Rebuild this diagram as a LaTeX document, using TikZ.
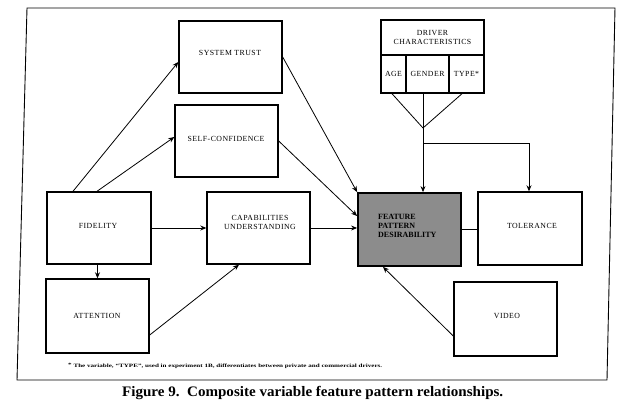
\documentclass[tikz,border=0pt]{standalone}
\usepackage{fontspec}
\usepackage{graphicx}
\setmainfont{Liberation Serif}
\newfontfamily\boxfont[LetterSpace=6]{Liberation Serif}
\usetikzlibrary{arrows.meta,calc}
\begin{document}
\begin{tikzpicture}[x=1pt,y=-1pt,
  box/.style={draw, line width=1.4pt, inner sep=0pt},
  lbl/.style={font=\boxfont\fontsize{7.8}{9}\selectfont, align=center, inner sep=0pt},
  arr/.style={-{Stealth[length=6pt,width=5pt]}, line width=0.8pt},
  con/.style={line width=0.8pt}]
\useasboundingbox (0,0) rectangle (625,409);
% frame
\draw[line width=0.9pt] (27,8) -- (615,8) -- (607,380) -- (17,380) -- cycle;
% boxes
\node[box, minimum width=103pt, minimum height=72pt] (st) at (230.5,57) {};
\node[box, minimum width=103pt, minimum height=72pt] (sc) at (226.5,141) {};
\node[box, minimum width=104pt, minimum height=72pt] (fid) at (99,228) {};
\node[box, minimum width=103pt, minimum height=72pt] (cap) at (258.5,228) {};
\node[box, minimum width=103pt, minimum height=73pt, fill=black!45, line width=1.8pt] (fpd) at (409.5,229.5) {};
\node[box, minimum width=104pt, minimum height=73pt] (tol) at (530,228.5) {};
\node[box, minimum width=103pt, minimum height=74pt] (att) at (97.5,316) {};
\node[box, minimum width=103pt, minimum height=74pt] (vid) at (505.5,319) {};
\node[box, lbl, minimum width=103pt, minimum height=35pt] (dc) at (432.5,37.5) {DRIVER\\CHARACTERISTICS};
\node[box, lbl, minimum width=25pt, minimum height=38pt] (age) at (393.5,74) {AGE};
\node[box, lbl, minimum width=43pt, minimum height=38pt] (gen) at (427.5,74) {GENDER};
\node[box, lbl, minimum width=35pt, minimum height=38pt] (typ) at (466.5,74) {TYPE*};
% labels
\node[lbl] (stt) at (230,53) {SYSTEM TRUST};
\node[lbl] (sct) at (226,139) {SELF-CONFIDENCE};
\node[lbl] (fidt) at (98,226) {FIDELITY};
\node[lbl] (capt) at (260,222.5) {CAPABILITIES\\UNDERSTANDING};
\node[lbl] (tolt) at (532,226) {TOLERANCE};
\node[lbl] (attt) at (97,316) {ATTENTION};
\node[lbl] (vidt) at (507,316) {VIDEO};
\node[anchor=west, align=left, inner sep=0pt, font=\bfseries\fontsize{8}{9}\selectfont] (fpdt) at (378,226) {FEATURE\\PATTERN\\DESIRABILITY};
% connectors
\draw[arr] ([xshift=-26pt]fid.north) -- ([yshift=-5pt]st.west);
\draw[arr] ([xshift=-2pt]fid.north) -- ([yshift=4pt]sc.west);
\draw[arr] (fid.east) -- (cap.west);
\draw[arr] (att.north |- fid.south) -- (att.north);
\draw[arr] ([yshift=-19pt]att.east) -- ([xshift=-19.5pt]cap.south);
\draw[arr] (st.east) -- (fpd.north west);
\draw[arr] (sc.east) -- ([yshift=13.5pt]fpd.west);
\draw[arr] (cap.east) -- (fpd.west |- cap.east);
\draw[arr] ([yshift=-17pt]vid.west) -- ([xshift=-26.5pt]fpd.south);
\draw[con] (fpd.east) -- (tol.west |- fpd.east);
\coordinate (j) at (423,128);
\coordinate (k) at (423,143);
\coordinate (m) at (529,143);
\draw[con] ([xshift=-1.5pt]age.south) -- (j);
\draw[con] ([xshift=-4.5pt]typ.south) -- (j);
\draw[con] (gen.south -| j) -- (j);
\draw[arr] (j) -- (fpd.north -| j);
\draw[arr] (k) -- (m) -- (tol.north -| m);
% footnote and caption
\node[anchor=base west, inner sep=0pt] (fn) at (68,367) {\resizebox{314pt}{\height}{\bfseries\fontsize{5}{6}\selectfont\raisebox{1pt}{*} The variable, “TYPE”, used in experiment 1B, differentiates between private and commercial drivers.}};
\node[anchor=base west, inner sep=0pt] (cap9) at (122,396) {\resizebox{381pt}{\height}{\bfseries\fontsize{14.5}{16}\selectfont Figure 9.\ \ Composite variable feature pattern relationships.}};
\end{tikzpicture}
\end{document}
